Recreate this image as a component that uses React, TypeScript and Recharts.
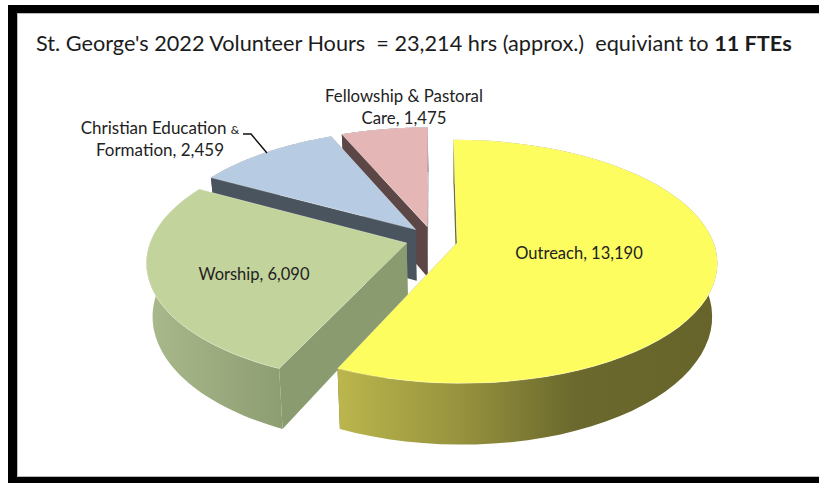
import React from 'react';
import { PieChart, Pie } from 'recharts';

// painted back to front, so the order follows the picture's stacking
const categories = ['Fellowship & Pastoral Care', 'Christian Education & Formation', 'Worship', 'Outreach'];
const hours = [1475, 2459, 6090, 13190];
const topColors = ['#E5B6B6', '#B7CCE2', '#C2D39B', '#FDFD60'];
const wallColors = ['#5D4746', '#4A545E', '#8A9B6F', '#6A692C'];
const rimStops = [
  [['0%', '#5D4746'], ['100%', '#5D4746']],
  [['0%', '#4A545E'], ['100%', '#4A545E']],
  [['0%', '#AAB98C'], ['100%', '#8C9D71']],
  [['0%', '#BAB54C'], ['30%', '#99953F'], ['62%', '#6B692D'], ['100%', '#66642A']],
];
const rimSpan = [[340, 430], [210, 420], [147, 285], [340, 717]];
const explode = [[-0.116, 0.14], [-0.162, 0.115], [-0.196, 0], [0, 0]];

const chartData = categories.map((name, i) => ({ name, value: hours[i], index: i }));

const FONT = 'Lato, sans-serif';
const ASPECT = 2.157; // horizontal stretch of the tilted disc
const PERSPECTIVE = 0.152;
const SKEW = 4;
const DEPTH = 52;
const SHRINK = 0.02;

const Slice3D = (props: any) => {
  const { cx, cy, outerRadius, startAngle, endAngle, name } = props;
  const i = categories.indexOf(name);
  const [ou, ov] = explode[i];

  const project = (radius: number, angle: number, low: boolean) => {
    const rad = (angle * Math.PI) / 180;
    const u = ou + radius * Math.cos(rad);
    const v = ov + radius * Math.sin(rad);
    const d = 1 + PERSPECTIVE * v;
    let x = cx + (outerRadius * ASPECT * u - SKEW * v) / d;
    let y = cy - (outerRadius * v) / d;
    if (low) {
      x += (cx - x) * SHRINK;
      y += DEPTH / d;
    }
    return `${x.toFixed(1)},${y.toFixed(1)}`;
  };

  const steps = 60;
  const angles = Array.from({ length: steps + 1 }, (_, k) => startAngle + ((endAngle - startAngle) * k) / steps);
  const arcTop = angles.map((a) => project(1, a, false));
  const arcLow = angles.map((a) => project(1, a, true)).reverse();
  const apexTop = project(0, 0, false);
  const apexLow = project(0, 0, true);
  const gradId = `rim-${i}`;

  return (
    <g>
      <defs>
        <linearGradient id={gradId} gradientUnits="userSpaceOnUse" x1={rimSpan[i][0]} x2={rimSpan[i][1]} y1="0" y2="0">
          {rimStops[i].map(([offset, color]) => (
            <stop key={offset} offset={offset} stopColor={color} />
          ))}
        </linearGradient>
      </defs>
      <polygon points={`${apexTop} ${project(1, startAngle, false)} ${project(1, startAngle, true)} ${apexLow}`} fill={wallColors[i]} />
      <polygon points={`${apexTop} ${project(1, endAngle, false)} ${project(1, endAngle, true)} ${apexLow}`} fill={wallColors[i]} />
      <polygon points={[...arcTop, ...arcLow].join(' ')} fill={`url(#${gradId})`} />
      <polygon points={[apexTop, ...arcTop].join(' ')} fill={topColors[i]} stroke="#fff" strokeOpacity={0.5} strokeWidth={0.6} />
    </g>
  );
};

const labelText = { fontFamily: FONT, fontSize: 16.5, fill: '#222' };

const SliceLabel = (props: any) => {
  const value = Number(props.value).toLocaleString('en-US');
  switch (props.name) {
    case 'Outreach':
      return <text {...labelText} x={579} y={259} textAnchor="middle">{`Outreach, ${value}`}</text>;
    case 'Worship':
      return <text {...labelText} x={254} y={280} textAnchor="middle">{`Worship, ${value}`}</text>;
    case 'Christian Education & Formation':
      return (
        <g>
          <text {...labelText} fontSize={17} textAnchor="middle">
            <tspan x={160} y={134}>Christian Education <tspan fontSize={12}>&amp;</tspan></tspan>
            <tspan x={160} y={156}>{`Formation, ${value}`}</tspan>
          </text>
          <path d="M243 134 L251 134 L267 153" fill="none" stroke="#111" strokeWidth={1.4} />
        </g>
      );
    default:
      return (
        <text {...labelText} fontSize={16.8} textAnchor="middle">
          <tspan x={404} y={102}>Fellowship &amp; Pastoral</tspan>
          <tspan x={404} y={124}>{`Care, ${value}`}</tspan>
        </text>
      );
  }
};

export default function App() {
  return (
    <div style={{ position: 'absolute', left: 0, top: 0, width: 819, height: 483, background: '#fff', overflow: 'hidden' }}>
      <div
        style={{
          position: 'absolute',
          left: 8,
          top: 5,
          width: 811,
          height: 478,
          boxSizing: 'border-box',
          borderLeft: '9px solid #000',
          borderTop: '8px solid #000',
          borderBottom: '6px solid #000',
          boxShadow: 'inset 1px 1px #bbb, inset 0 -1px #bbb',
        }}
      />
      <PieChart width={819} height={483} margin={{ top: 0, right: 0, bottom: 0, left: 0 }} style={{ position: 'absolute', left: 0, top: 0 }}>
        <Pie
          data={chartData}
          dataKey="value"
          nameKey="name"
          cx={457}
          cy={243}
          outerRadius={119}
          startAngle={90}
          endAngle={450}
          stroke="none"
          isAnimationActive={false}
          shape={(p: any) => <Slice3D {...p} />}
          label={(p: any) => <SliceLabel {...p} />}
          labelLine={false}
        />
      </PieChart>
      <div
        style={{
          position: 'absolute',
          left: 36,
          top: 29,
          fontFamily: FONT,
          fontSize: 21.7,
          lineHeight: '28px',
          color: '#1c1c1c',
          whiteSpace: 'pre',
        }}
      >
        {"St. George's 2022 Volunteer Hours  = 23,214 hrs (approx.)  equiviant to "}
        <b>11 FTEs</b>
      </div>
    </div>
  );
}
